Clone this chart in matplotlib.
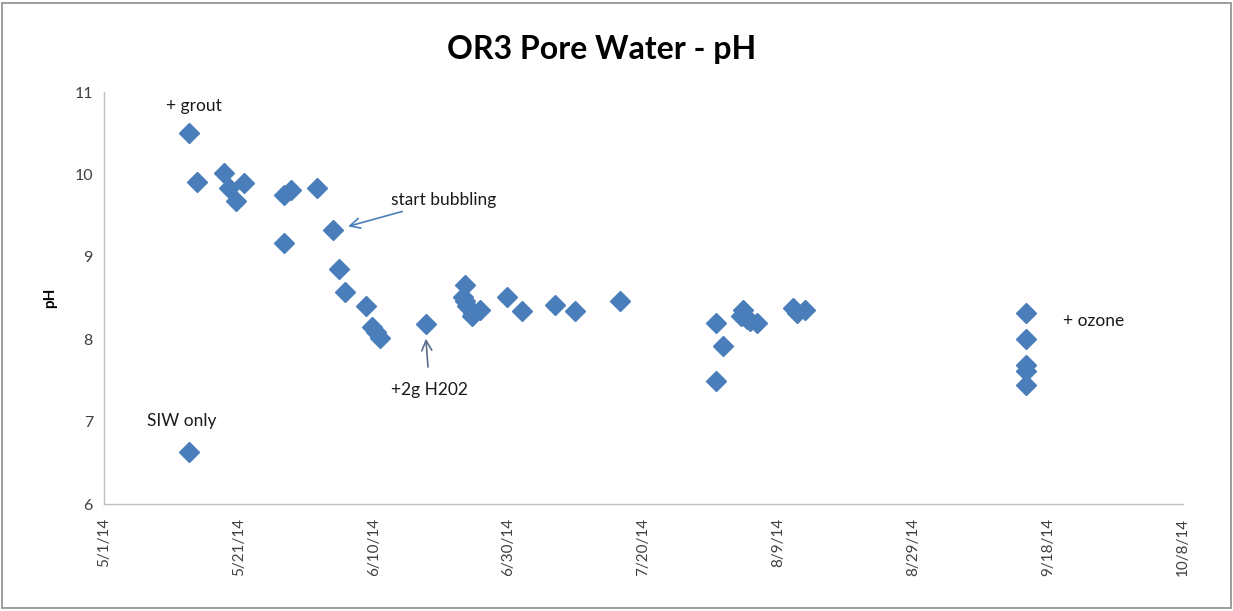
import matplotlib
matplotlib.use("Agg")
import matplotlib.pyplot as plt
import matplotlib.dates as mdates
from matplotlib.patches import Rectangle
import pandas as pd

# Data: day offsets from 2014-05-01 and pH values
start_date = "2014-05-01"
day_offsets = [12.6, 12.6, 13.8, 17.8, 18.6, 19.6, 20.8, 26.7, 26.7, 27.8, 31.6,
               33.9, 34.8, 35.8, 38.8, 39.7, 40.4, 40.9, 47.7,
               53.2, 53.5, 53.6, 53.9, 54.5, 54.7, 55.7, 59.7, 62.0, 66.9, 69.8, 76.5,
               90.8, 91.8, 90.8, 94.4, 94.7, 95.4, 95.8, 96.9, 102.1, 102.8, 104.0,
               136.7, 136.7, 136.7, 136.7, 136.7]
ph_values = [6.63, 10.50, 9.91, 10.02, 9.83, 9.68, 9.90, 9.75, 9.17, 9.81, 9.83,
             9.33, 8.85, 8.57, 8.40, 8.15, 8.09, 8.02, 8.19,
             8.51, 8.46, 8.66, 8.40, 8.28, 8.32, 8.36, 8.51, 8.34, 8.41, 8.34, 8.46,
             8.20, 7.92, 7.49, 8.28, 8.35, 8.24, 8.22, 8.20, 8.38, 8.32, 8.35,
             8.32, 8.00, 7.69, 7.61, 7.45]

title = "OR3 Pore Water - pH"
y_label = "pH"
x_tick_start = "2014-05-01"
x_tick_end = "2014-10-08"
x_tick_step_days = 20
y_ticks = [6, 7, 8, 9, 10, 11]

base = pd.Timestamp(start_date)
dates = [base + pd.Timedelta(days=d) for d in day_offsets]

def day(d):
    return mdates.date2num(base + pd.Timedelta(days=d))

plt.rcParams['font.family'] = ['Lato', 'DejaVu Sans']

fig = plt.figure(figsize=(12.33, 6.11), dpi=100)
ax = fig.add_axes([104/1233, 1 - 504/611, (1183-104)/1233, (504-92)/611])

ax.plot(dates, ph_values, linestyle='none', marker='D', markersize=10,
        color='#4A7EBB', markeredgecolor='#4A7EBB', zorder=3)

xt = pd.date_range(x_tick_start, x_tick_end, freq=f"{x_tick_step_days}D")
ax.set_xlim(mdates.date2num(xt[0]), mdates.date2num(xt[-1]))
ax.set_xticks(mdates.date2num(xt))
ax.set_xticklabels([f"{t.month}/{t.day}/{t.strftime('%y')}" for t in xt],
                   rotation=90, fontsize=11, color='#404040')
ax.set_ylim(6, 11)
ax.set_yticks(y_ticks)
ax.set_yticklabels([str(v) for v in y_ticks], fontsize=11.5, color='#404040')
ax.tick_params(axis='both', length=0, pad=8)
ax.tick_params(axis='x', pad=10)

for s in ['top', 'right']:
    ax.spines[s].set_visible(False)
for s in ['left', 'bottom']:
    ax.spines[s].set_color('#BFBFBF')
    ax.spines[s].set_linewidth(1.0)

ax.set_ylabel(y_label, fontsize=11, fontweight='bold', labelpad=12)

fig.text(0.488, 1 - 50/611, title, ha='center', va='center',
         fontsize=23, fontweight='bold', color='black')

tk = dict(fontsize=12.5, color='#1a1a1a')
ax.text(day(13.4), 10.83, "+ grout", ha='center', va='center', **tk)
ax.text(day(11.6), 7.01, "SIW only", ha='center', va='center', **tk)
ax.text(day(142.2), 8.22, "+ ozone", ha='left', va='center', **tk)
ax.annotate("start bubbling", xy=(day(35.8), 9.36), xytext=(day(42.6), 9.69),
            ha='left', va='center',
            arrowprops=dict(arrowstyle='->', color='#4A7EBB', lw=1.2,
                            shrinkA=2, shrinkB=2, mutation_scale=18), **tk)
ax.annotate("+2g H202", xy=(day(47.7), 8.04), xytext=(day(48.3), 7.38),
            ha='center', va='center',
            arrowprops=dict(arrowstyle='->', color='#5A6E8C', lw=1.2,
                            shrinkA=9, shrinkB=2, mutation_scale=18), **tk)

fig.patches.append(Rectangle((0.002, 0.005), 0.996, 0.99, transform=fig.transFigure,
                             fill=False, edgecolor='#8C8C8C', linewidth=1.2))

fig.savefig("out.png", dpi=100)
